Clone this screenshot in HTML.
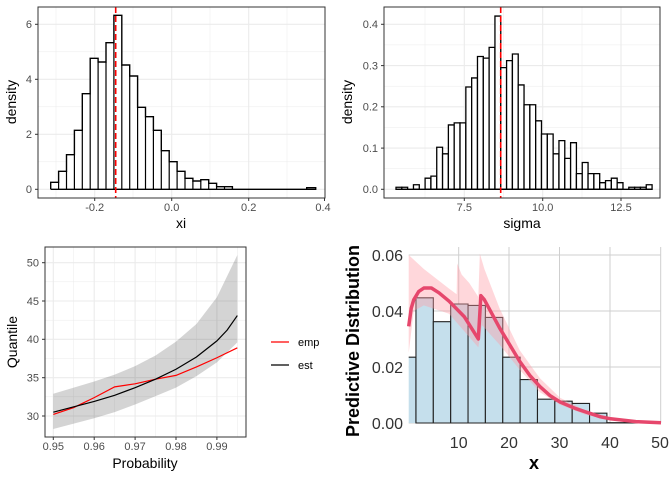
<!DOCTYPE html>
<html><head><meta charset="utf-8"><style>
body{margin:0;background:#fff}
svg{display:block;font-family:"Liberation Sans",sans-serif}
.t{font-size:11px;fill:#4d4d4d}
.ti{font-size:14px;fill:#000}
.g1{stroke:#ebebeb;stroke-width:1.1}
.g0{stroke:#ebebeb;stroke-width:0.5}
.tk{stroke:#333;stroke-width:1}
path,line,polyline,polygon,rect{vector-effect:non-scaling-stroke}
</style></head><body>
<svg width="672" height="480" viewBox="0 0 672 480">
<!-- Panel 1 -->
<g>
<g class="g0">
<line x1="56" x2="56" y1="7" y2="198"/><line x1="133" x2="133" y1="7" y2="198"/><line x1="210" x2="210" y1="7" y2="198"/><line x1="287" x2="287" y1="7" y2="198"/>
<line x1="38" x2="325" y1="161.8" y2="161.8"/><line x1="38" x2="325" y1="106.8" y2="106.8"/><line x1="38" x2="325" y1="51.8" y2="51.8"/>
</g>
<g class="g1">
<line x1="94.7" x2="94.7" y1="7" y2="198"/><line x1="171.7" x2="171.7" y1="7" y2="198"/><line x1="248.7" x2="248.7" y1="7" y2="198"/>
<line x1="38" x2="325" y1="189.3" y2="189.3"/><line x1="38" x2="325" y1="134.3" y2="134.3"/><line x1="38" x2="325" y1="79.3" y2="79.3"/><line x1="38" x2="325" y1="24.3" y2="24.3"/>
</g>
<polyline fill="#fff" stroke="#000" stroke-width="1.4" points="50.7,189.3 50.7,182.3 58.6,182.3 58.6,171.3 66.5,171.3 66.5,154.7 74.4,154.7 74.4,130.3 82.3,130.3 82.3,93.7 90.2,93.7 90.2,58.3 98.1,58.3 98.1,62 106,62 106,42.7 113.9,42.7 113.9,15.3 121.8,15.3 121.8,65 129.7,65 129.7,76 137.6,76 137.6,107.3 145.5,107.3 145.5,116.7 153.4,116.7 153.4,130.3 161.3,130.3 161.3,150.7 169.2,150.7 169.2,161.7 177.1,161.7 177.1,171.3 185,171.3 185,178.3 192.9,178.3 192.9,181 200.8,181 200.8,179.7 208.7,179.7 208.7,183.3 216.6,183.3 216.6,186.7 224.5,186.7 224.5,186.7 232.4,186.7 232.4,189.3 306.7,189.3 306.7,187.7 315.7,187.7 315.7,189.3 50.7,189.3"/>
<g stroke="#000" stroke-width="1.2"><line x1="58.6" x2="58.6" y1="182.3" y2="189.3"/><line x1="66.5" x2="66.5" y1="171.3" y2="189.3"/><line x1="74.4" x2="74.4" y1="154.7" y2="189.3"/><line x1="82.3" x2="82.3" y1="130.3" y2="189.3"/><line x1="90.2" x2="90.2" y1="93.7" y2="189.3"/><line x1="98.1" x2="98.1" y1="62" y2="189.3"/><line x1="106" x2="106" y1="62" y2="189.3"/><line x1="113.9" x2="113.9" y1="42.7" y2="189.3"/><line x1="121.8" x2="121.8" y1="65" y2="189.3"/><line x1="129.7" x2="129.7" y1="76" y2="189.3"/><line x1="137.6" x2="137.6" y1="107.3" y2="189.3"/><line x1="145.5" x2="145.5" y1="116.7" y2="189.3"/><line x1="153.4" x2="153.4" y1="130.3" y2="189.3"/><line x1="161.3" x2="161.3" y1="150.7" y2="189.3"/><line x1="169.2" x2="169.2" y1="161.7" y2="189.3"/><line x1="177.1" x2="177.1" y1="171.3" y2="189.3"/><line x1="185" x2="185" y1="178.3" y2="189.3"/><line x1="192.9" x2="192.9" y1="181" y2="189.3"/><line x1="200.8" x2="200.8" y1="181" y2="189.3"/><line x1="208.7" x2="208.7" y1="183.3" y2="189.3"/><line x1="216.6" x2="216.6" y1="186.7" y2="189.3"/><line x1="224.5" x2="224.5" y1="186.7" y2="189.3"/></g>
<line x1="115.7" x2="115.7" y1="7" y2="198" stroke="#f00" stroke-width="1.6" stroke-dasharray="6,3"/>
<rect x="38" y="7" width="287" height="191" fill="none" stroke="#333" stroke-width="1"/>
<g class="tk"><line x1="35" x2="38" y1="189.3" y2="189.3"/><line x1="35" x2="38" y1="134.3" y2="134.3"/><line x1="35" x2="38" y1="79.3" y2="79.3"/><line x1="35" x2="38" y1="24.3" y2="24.3"/><line x1="94.7" x2="94.7" y1="198" y2="201"/><line x1="171.7" x2="171.7" y1="198" y2="201"/><line x1="248.7" x2="248.7" y1="198" y2="201"/><line x1="324.5" x2="324.5" y1="198" y2="201"/></g>
<g class="t" text-anchor="end"><text x="32" y="193">0</text><text x="32" y="138">2</text><text x="32" y="83">4</text><text x="32" y="28">6</text></g>
<g class="t" text-anchor="middle"><text x="94.7" y="211">-0.2</text><text x="171.7" y="211">0.0</text><text x="248.7" y="211">0.2</text><text x="323" y="211">0.4</text></g>
<text class="ti" x="181" y="228" text-anchor="middle">xi</text>
<text class="ti" transform="translate(16,102) rotate(-90)" text-anchor="middle">density</text>
</g>
<!-- Panel 2 -->
<g>
<g class="g0">
<line x1="425" x2="425" y1="7" y2="198"/><line x1="503.5" x2="503.5" y1="7" y2="198"/><line x1="582" x2="582" y1="7" y2="198"/><line x1="660" x2="660" y1="7" y2="198"/>
<line x1="384" x2="660" y1="168.7" y2="168.7"/><line x1="384" x2="660" y1="127.4" y2="127.4"/><line x1="384" x2="660" y1="86.2" y2="86.2"/><line x1="384" x2="660" y1="44.9" y2="44.9"/>
</g>
<g class="g1">
<line x1="464.3" x2="464.3" y1="7" y2="198"/><line x1="542.7" x2="542.7" y1="7" y2="198"/><line x1="621" x2="621" y1="7" y2="198"/>
<line x1="384" x2="660" y1="189.3" y2="189.3"/><line x1="384" x2="660" y1="148.1" y2="148.1"/><line x1="384" x2="660" y1="106.8" y2="106.8"/><line x1="384" x2="660" y1="65.6" y2="65.6"/><line x1="384" x2="660" y1="24.3" y2="24.3"/>
</g>
<g transform="translate(396,189.3) scale(5.82,-412.5)" fill="#fff" stroke="#000" stroke-width="1.3">
<rect x="0" width="1" height="0.005"/><rect x="1" width="1" height="0.005"/><rect x="3" width="1" height="0.011"/><rect x="5" width="1" height="0.027"/><rect x="6" width="1" height="0.032"/><rect x="7" width="1" height="0.102"/><rect x="8" width="1" height="0.086"/><rect x="9" width="1" height="0.156"/><rect x="10" width="1" height="0.161"/><rect x="11" width="1" height="0.161"/><rect x="12" width="1" height="0.248"/><rect x="13" width="1" height="0.27"/><rect x="14" width="1" height="0.322"/><rect x="15" width="1" height="0.318"/><rect x="16" width="1" height="0.344"/><rect x="17" width="1" height="0.42"/><rect x="18" width="1" height="0.295"/><rect x="19" width="1" height="0.312"/><rect x="20" width="1" height="0.328"/><rect x="21" width="1" height="0.253"/><rect x="22" width="1" height="0.205"/><rect x="23" width="1" height="0.205"/><rect x="24" width="1" height="0.166"/><rect x="25" width="1" height="0.134"/><rect x="26" width="1" height="0.134"/><rect x="27" width="1" height="0.086"/><rect x="28" width="1" height="0.118"/><rect x="29" width="1" height="0.075"/><rect x="30" width="1" height="0.113"/><rect x="31" width="1" height="0.038"/><rect x="32" width="1" height="0.065"/><rect x="33" width="1" height="0.038"/><rect x="34" width="1" height="0.038"/><rect x="35" width="1" height="0.016"/><rect x="36" width="1" height="0.021"/><rect x="37" width="1" height="0.027"/><rect x="38" width="1" height="0.016"/><rect x="40" width="1" height="0.005"/><rect x="41" width="1" height="0.005"/><rect x="42" width="1" height="0.005"/><rect x="43" width="1" height="0.011"/>
</g>
<line x1="396" x2="652" y1="189.3" y2="189.3" stroke="#000" stroke-width="1.3"/>
<line x1="500.7" x2="500.7" y1="7" y2="198" stroke="#f00" stroke-width="1.6" stroke-dasharray="6,3"/>
<rect x="384" y="7" width="276" height="191" fill="none" stroke="#333" stroke-width="1"/>
<g class="tk"><line x1="381" x2="384" y1="189.3" y2="189.3"/><line x1="381" x2="384" y1="148.1" y2="148.1"/><line x1="381" x2="384" y1="106.8" y2="106.8"/><line x1="381" x2="384" y1="65.6" y2="65.6"/><line x1="381" x2="384" y1="24.3" y2="24.3"/><line x1="464.3" x2="464.3" y1="198" y2="201"/><line x1="542.7" x2="542.7" y1="198" y2="201"/><line x1="621" x2="621" y1="198" y2="201"/></g>
<g class="t" text-anchor="end"><text x="378" y="193">0.0</text><text x="378" y="152">0.1</text><text x="378" y="110.5">0.2</text><text x="378" y="69.5">0.3</text><text x="378" y="28">0.4</text></g>
<g class="t" text-anchor="middle"><text x="464.3" y="211">7.5</text><text x="542.7" y="211">10.0</text><text x="621" y="211">12.5</text></g>
<text class="ti" x="522" y="228" text-anchor="middle">sigma</text>
<text class="ti" transform="translate(352,102) rotate(-90)" text-anchor="middle">density</text>
</g>
<!-- Panel 3 -->
<g>
<g class="g0">
<line x1="73.7" x2="73.7" y1="247" y2="437"/><line x1="114.6" x2="114.6" y1="247" y2="437"/><line x1="155.5" x2="155.5" y1="247" y2="437"/><line x1="196.4" x2="196.4" y1="247" y2="437"/><line x1="237.3" x2="237.3" y1="247" y2="437"/>
<line x1="45" x2="246" y1="396.8" y2="396.8"/><line x1="45" x2="246" y1="358.5" y2="358.5"/><line x1="45" x2="246" y1="320.2" y2="320.2"/><line x1="45" x2="246" y1="281.8" y2="281.8"/>
</g>
<g class="g1">
<line x1="53.3" x2="53.3" y1="247" y2="437"/><line x1="94.2" x2="94.2" y1="247" y2="437"/><line x1="135.1" x2="135.1" y1="247" y2="437"/><line x1="176" x2="176" y1="247" y2="437"/><line x1="216.9" x2="216.9" y1="247" y2="437"/>
<line x1="45" x2="246" y1="416" y2="416"/><line x1="45" x2="246" y1="377.7" y2="377.7"/><line x1="45" x2="246" y1="339.3" y2="339.3"/><line x1="45" x2="246" y1="301" y2="301"/><line x1="45" x2="246" y1="262.7" y2="262.7"/>
</g>
<g transform="translate(-3832.2,645.95) scale(4090,-7.665)">
<polygon fill="#000" fill-opacity="0.17" points="0.95,32.9 0.955,33.7 0.96,34.5 0.965,35.4 0.97,36.5 0.975,37.9 0.98,39.7 0.985,42 0.99,45.5 0.995,51 0.995,39.6 0.99,37 0.985,35.2 0.98,33.7 0.975,32.6 0.97,31.5 0.965,30.5 0.96,29.7 0.955,29 0.95,28.3"/>
<polyline fill="none" stroke="#f00" stroke-width="1.2" points="0.95,30.2 0.955,31.1 0.96,32.4 0.965,33.8 0.97,34.2 0.975,34.8 0.98,35.3 0.985,36.4 0.99,37.6 0.995,38.9"/>
<polyline fill="none" stroke="#000" stroke-width="1.2" points="0.95,30.5 0.955,31.2 0.96,31.9 0.965,32.7 0.97,33.7 0.975,34.8 0.98,36.1 0.985,37.7 0.99,39.8 0.9925,41.2 0.995,43.1"/>
</g>
<rect x="45" y="247" width="201" height="190" fill="none" stroke="#333" stroke-width="1"/>
<g class="tk"><line x1="42" x2="45" y1="416" y2="416"/><line x1="42" x2="45" y1="377.7" y2="377.7"/><line x1="42" x2="45" y1="339.3" y2="339.3"/><line x1="42" x2="45" y1="301" y2="301"/><line x1="42" x2="45" y1="262.7" y2="262.7"/><line x1="53.3" x2="53.3" y1="437" y2="440"/><line x1="94.2" x2="94.2" y1="437" y2="440"/><line x1="135.1" x2="135.1" y1="437" y2="440"/><line x1="176" x2="176" y1="437" y2="440"/><line x1="216.9" x2="216.9" y1="437" y2="440"/></g>
<g class="t" text-anchor="end"><text x="39" y="420">30</text><text x="39" y="381.5">35</text><text x="39" y="343">40</text><text x="39" y="305">45</text><text x="39" y="266.5">50</text></g>
<g class="t" text-anchor="middle"><text x="53.3" y="450">0.95</text><text x="94.2" y="450">0.96</text><text x="135.1" y="450">0.97</text><text x="176" y="450">0.98</text><text x="216.9" y="450">0.99</text></g>
<text class="ti" x="145" y="468" text-anchor="middle">Probability</text>
<text class="ti" transform="translate(17,342) rotate(-90)" text-anchor="middle">Quantile</text>
<line x1="271" x2="289" y1="342" y2="342" stroke="#f00" stroke-width="1.2"/>
<line x1="271" x2="289" y1="365" y2="365" stroke="#000" stroke-width="1.2"/>
<text x="298" y="346" style="font-size:11px" fill="#000">emp</text>
<text x="298" y="369" style="font-size:11px" fill="#000">est</text>
</g>
<!-- Panel 4 -->
<g>
<g stroke="#cfcfcf" stroke-width="1">
<line x1="458.7" x2="458.7" y1="247" y2="423"/><line x1="509" x2="509" y1="247" y2="423"/><line x1="559.5" x2="559.5" y1="247" y2="423"/><line x1="610" x2="610" y1="247" y2="423"/><line x1="660.7" x2="660.7" y1="247" y2="423"/>
<line x1="408.7" x2="661" y1="423" y2="423"/><line x1="408.7" x2="661" y1="367" y2="367"/><line x1="408.7" x2="661" y1="311" y2="311"/><line x1="408.7" x2="661" y1="255" y2="255"/>
</g>
<g transform="translate(408.7,423) scale(5.046,-2800)" fill="#c5dfec" stroke="#222" stroke-width="1.1">
<rect x="0" width="1.44" height="0.0235" stroke="none"/>
<polyline fill="none" points="0,0.0235 1.44,0.0235 1.44,0"/>
<rect x="1.44" width="3.44" height="0.0447"/><rect x="4.88" width="3.44" height="0.0362"/><rect x="8.32" width="3.44" height="0.0425"/><rect x="11.76" width="3.44" height="0.042"/><rect x="15.2" width="3.44" height="0.0377"/><rect x="18.64" width="3.44" height="0.0235"/><rect x="22.08" width="3.44" height="0.0155"/><rect x="25.52" width="3.44" height="0.0085"/><rect x="28.96" width="3.44" height="0.0078"/><rect x="32.4" width="3.44" height="0.007"/><rect x="35.84" width="3.44" height="0.0035"/><rect x="39.28" width="3.44" height="0.0001"/><rect x="42.72" width="3.44" height="0.0002"/>
<polygon fill="#ff9aa4" fill-opacity="0.4" stroke="none" points="0,0.060 3,0.055 8,0.048 9.5,0.046 9.6,0.057 10.5,0.053 12,0.05 13.8,0.045 14.1,0.0605 15,0.055 18,0.041 22,0.026 26,0.016 30,0.009 35,0.0045 40,0.002 45,0.0007 50,0.0002 50,0 45,0.0003 40,0.001 35,0.003 30,0.0065 26,0.011 22,0.019 18,0.028 14.5,0.035 13.8,0.027 8,0.039 3,0.042 1,0.04 0,0.025"/>
<polyline fill="none" stroke="#e6476c" stroke-width="3.5" stroke-linejoin="round" points="0,0.0345 0.5,0.041 1,0.044 2,0.047 3,0.0482 4.5,0.0482 6,0.0465 8,0.0435 11,0.038 13.8,0.030 14.3,0.0455 15,0.044 16.5,0.039 18,0.034 20,0.028 22,0.022 24,0.017 26,0.013 28,0.0098 30,0.0075 33,0.0052 35,0.004 38,0.0022 40,0.0015 45,0.0005 50,0.0001"/>
</g>
<g text-anchor="end" style="font-size:16px" fill="#333"><text x="403" y="429">0.00</text><text x="403" y="373">0.02</text><text x="403" y="317">0.04</text><text x="403" y="261">0.06</text></g>
<g text-anchor="middle" style="font-size:16px" fill="#333"><text x="458.7" y="448">10</text><text x="509" y="448">20</text><text x="559.5" y="448">30</text><text x="610" y="448">40</text><text x="660" y="448">50</text></g>
<text x="534" y="469" text-anchor="middle" style="font-size:18px;font-weight:bold">x</text>
<text transform="translate(359,341) rotate(-90)" text-anchor="middle" style="font-size:18px;font-weight:bold">Predictive Distribution</text>
</g>
</svg>
</body></html>
